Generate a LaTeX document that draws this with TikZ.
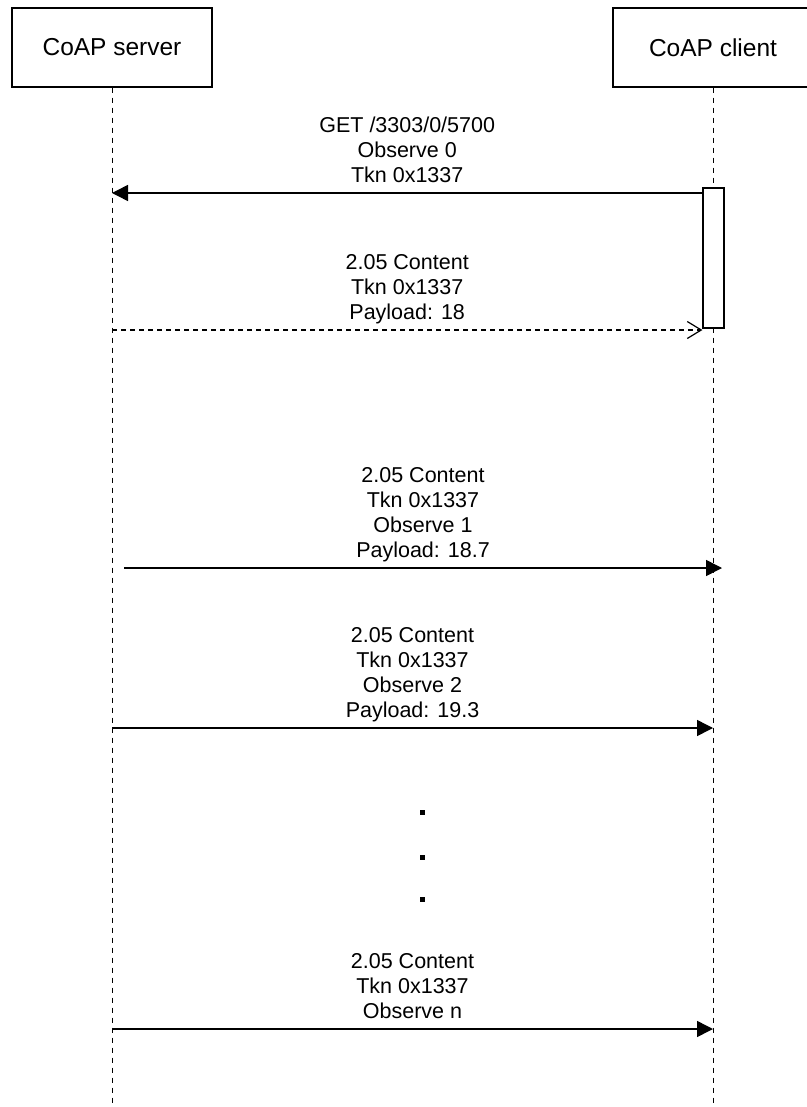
\documentclass[tikz,border=0pt]{standalone}
\usepackage{fontspec}
\setmainfont{Liberation Sans}
\usetikzlibrary{arrows.meta}

\begin{document}
\begin{tikzpicture}[x=1pt, y=-1pt,
        actor/.style={draw, line width=1.2pt, minimum width=200pt, minimum height=79pt, font=\fontsize{24.5}{29}\selectfont},
        lifeline/.style={line width=1pt, dash pattern=on 5pt off 5pt},
        activation/.style={draw, fill=white, line width=1.2pt, minimum width=21pt, minimum height=140pt, inner sep=0pt},
        msg/.style={line width=1.5pt, -{Triangle[length=16pt,width=16pt]}},
        reply/.style={line width=1.2pt, dash pattern=on 5pt off 4pt, -{Straight Barb[length=14pt,width=17pt,line width=1.2pt]}},
        lbl/.style={font=\fontsize{21.5}{25}\selectfont, align=center, inner sep=0pt, text depth=0pt, above=10pt}]
        \useasboundingbox (0,0) rectangle (806,1107);

        % participants and lifelines
        \node[actor] (server) at (112,47.5) {CoAP server};
        \node[actor] (client) at (713,47.5) {CoAP client};
        \coordinate (serverEnd) at (112,1105);
        \coordinate (clientEnd) at (713,1105);
        \draw[lifeline] (server.south) -- (serverEnd);
        \draw[lifeline] (client.south) -- (clientEnd);
        \node[activation] (act) at (713.5,258) {};

        % register
        \coordinate (get) at (112,193);
        \draw[msg] (act.west |- get) -- (get) node[lbl, midway] {GET /3303/0/5700\\Observe 0\\Tkn 0x1337};
        \coordinate (resp) at (112,330);
        \draw[reply] (resp) -- (act.west |- resp) node[lbl, midway] {2.05 Content\\Tkn 0x1337\\Payload: 18};

        % notifications
        \coordinate (obs1s) at (124,568);
        \coordinate (obs1e) at (722,568);
        \draw[msg] (obs1s) -- (obs1e) node[lbl, midway] {2.05 Content\\Tkn 0x1337\\Observe 1\\Payload: 18.7};
        \coordinate (obs2s) at (112,728);
        \coordinate (obs2e) at (713,728);
        \draw[msg] (obs2s) -- (obs2e) node[lbl, midway] {2.05 Content\\Tkn 0x1337\\Observe 2\\Payload: 19.3};
        \foreach \y in {812,857,899}
                \fill (419.5,\y-2.5) rectangle +(5,5);
        \coordinate (obsNs) at (112,1029);
        \coordinate (obsNe) at (713,1029);
        \draw[msg] (obsNs) -- (obsNe) node[lbl, midway] {2.05 Content\\Tkn 0x1337\\Observe n};
\end{tikzpicture}
\end{document}
